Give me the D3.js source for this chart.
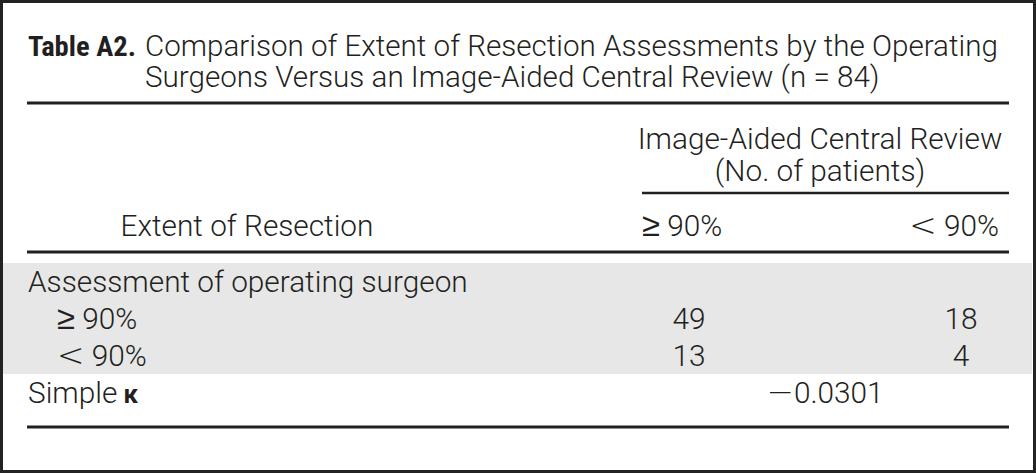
<!DOCTYPE html>
<html>
<head>
<meta charset="utf-8">
<script src="https://cdn.jsdelivr.net/npm/d3@7"></script>
<style>
	html, body { margin: 0; padding: 0; background: #fff; }
	svg text { fill: #231f20; }
</style>
</head>
<body>
<div id="app"></div>
<script>

// table content
const titleLabel = 'Table A2.';
const titleLines = [
	'Comparison of Extent of Resection Assessments by the Operating',
	'Surgeons Versus an Image-Aided Central Review (n = 84)'
];
const spannerLines = ['Image-Aided Central Review', '(No. of patients)'];
const stubHeader = 'Extent of Resection';
const columns = ['≥ 90%', '< 90%'];
const rowLabels = ['Assessment of operating surgeon', '≥ 90%', '< 90%', 'Simple'];
const rowIndent = [0, 1, 1, 0];
const counts = [null, [49, 18], [13, 4], null];
const kappa = '−0.0301';

const width = 1036,
	height = 473,
	ruleLeft = 27,
	ruleRight = 1009,
	bodyFont = '"Roboto", "Liberation Sans", sans-serif',
	symbolFont = '"DejaVu Sans", sans-serif',
	boldFont = '"Liberation Sans Narrow", "Roboto Condensed", "Liberation Sans", sans-serif',
	ink = '#231f20';

const svg = d3.select('#app').append('svg')
	.attr('width', width)
	.attr('height', height);

// fit a font size so a sample string has the wanted width
const fitSize = (str, family, weight, target) => {
	let t = svg.append('text')
		.attr('font-family', family)
		.attr('font-weight', weight)
		.attr('font-size', 100)
		.text(str);
	let w = t.node().getComputedTextLength();
	t.remove();
	return 100 * target / w;
};

const bodySize = fitSize(rowLabels[0], bodyFont, 300, 440);
const titleSize = fitSize(titleLines[0], bodyFont, 300, 853);
const labelSize = fitSize(titleLabel, boldFont, 700, 108);

// math signs (≥ < −) get a wider symbol face, like the typeset original
const setText = (sel, str) => {
	sel.text(null);
	str.split(/([≥<−])/).filter(s => s.length).forEach(part => {
		let ts = sel.append('tspan').text(part);
		if (/[≥<−]/.test(part)) {
			ts.attr('font-family', symbolFont)
				.attr('font-weight', 200)
				.attr('font-size', bodySize * 1.1);
		}
	});
};

// rows and columns through scales
const yRow = d3.scaleBand()
	.domain(d3.range(rowLabels.length))
	.range([263, 411]);

const xCol = d3.scalePoint()
	.domain(columns)
	.range([689, 961]);

// shaded body band (first three rows)
svg.append('rect')
	.attr('x', 3)
	.attr('y', yRow(0))
	.attr('width', 1029)
	.attr('height', yRow(2) + yRow.bandwidth() - yRow(0))
	.attr('fill', '#e6e7e6');

// frame
svg.append('rect')
	.attr('x', 1.5)
	.attr('y', 1.5)
	.attr('width', 1033)
	.attr('height', 470)
	.attr('fill', 'none')
	.attr('stroke', '#222')
	.attr('stroke-width', 3);

const rule = (x1, x2, y, w) => svg.append('line')
	.attr('x1', x1).attr('x2', x2)
	.attr('y1', y).attr('y2', y)
	.attr('stroke', ink)
	.attr('stroke-width', w);

rule(ruleLeft, ruleRight, 103, 3);
rule(642, ruleRight, 193, 2.5);
rule(ruleLeft, ruleRight, 252, 3);
rule(ruleLeft, ruleRight, 427, 3);

// title
svg.append('text')
	.attr('x', 28)
	.attr('y', 56)
	.attr('font-family', boldFont)
	.attr('font-weight', 700)
	.attr('font-size', labelSize)
	.text(titleLabel);

svg.selectAll('text.title')
	.data(titleLines)
	.enter().append('text')
	.attr('class', 'title')
	.attr('x', 145)
	.attr('y', (d, i) => 56 + i * 31)
	.attr('font-family', bodyFont)
	.attr('font-weight', 300)
	.attr('font-size', titleSize)
	.text(d => d);

const body = svg.append('g')
	.attr('font-family', bodyFont)
	.attr('font-weight', 300)
	.attr('font-size', bodySize);

// column headers
body.selectAll('text.spanner')
	.data(spannerLines)
	.enter().append('text')
	.attr('class', 'spanner')
	.attr('x', 820)
	.attr('y', (d, i) => 138 + i * 32)
	.attr('dy', '0.36em')
	.attr('text-anchor', 'middle')
	.text(d => d);

body.append('text')
	.attr('x', 247)
	.attr('y', 225)
	.attr('dy', '0.36em')
	.attr('text-anchor', 'middle')
	.text(stubHeader);

body.selectAll('text.colhead')
	.data(columns)
	.enter().append('text')
	.attr('class', 'colhead')
	.attr('x', (d, i) => i === 0 ? 642 : 999)
	.attr('y', 225)
	.attr('dy', '0.36em')
	.attr('text-anchor', (d, i) => i === 0 ? 'start' : 'end')
	.each(function(d) { setText(d3.select(this), d); });

// stub labels
let stub = body.selectAll('text.stub')
	.data(rowLabels)
	.enter().append('text')
	.attr('class', 'stub')
	.attr('x', (d, i) => 28 + rowIndent[i] * 29)
	.attr('y', (d, i) => yRow(i) + yRow.bandwidth() / 2)
	.attr('dy', '0.36em')
	.each(function(d) { setText(d3.select(this), d); });

stub.filter((d, i) => i === 3)
	.append('tspan')
	.attr('font-weight', 700)
	.attr('font-size', bodySize * 0.85)
	.text(' κ');

// cell counts
rowLabels.forEach((r, i) => {
	if (!counts[i]) return;
	body.selectAll(null)
		.data(counts[i])
		.enter().append('text')
		.attr('x', (d, j) => xCol(columns[j]))
		.attr('y', yRow(i) + yRow.bandwidth() / 2)
		.attr('dy', '0.36em')
		.attr('text-anchor', 'middle')
		.text(d => d);
});

// kappa spans both columns
body.append('text')
	.attr('x', d3.mean(columns, c => xCol(c)))
	.attr('y', yRow(3) + yRow.bandwidth() / 2)
	.attr('dy', '0.36em')
	.attr('text-anchor', 'middle')
	.call(sel => setText(sel, kappa));

</script>
</body>
</html>
